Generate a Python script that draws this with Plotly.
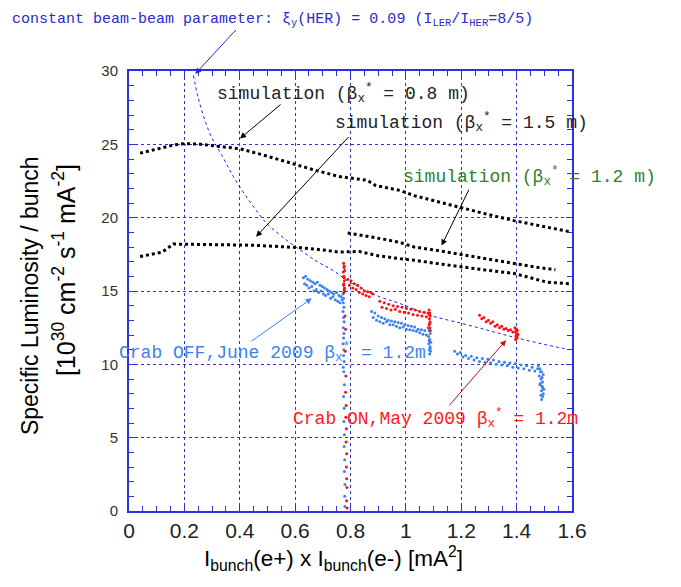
import plotly.graph_objects as go

# --- simulation curves (black dotted) ---
sim08_x = [0.04, 0.10, 0.16, 0.20, 0.26, 0.33, 0.40, 0.48, 0.57, 0.66, 0.76, 0.86, 0.89, 0.98, 1.03, 1.10, 1.19, 1.29, 1.39, 1.49, 1.59]
sim08_y = [24.4, 24.7, 24.95, 25.05, 25.0, 24.85, 24.7, 24.3, 23.8, 23.3, 22.8, 22.55, 22.2, 21.85, 21.5, 21.15, 20.7, 20.25, 19.8, 19.4, 19.05]

sim15_x = [0.04, 0.12, 0.16, 0.25, 0.35, 0.45, 0.54, 0.62, 0.70, 0.76, 0.83, 0.90, 0.98, 1.03, 1.12, 1.21, 1.30, 1.39, 1.45, 1.51, 1.59]
sim15_y = [17.35, 17.65, 18.2, 18.2, 18.15, 18.12, 18.05, 17.95, 17.8, 17.65, 17.7, 17.4, 17.2, 17.1, 16.85, 16.6, 16.4, 16.2, 15.9, 15.6, 15.5]

sim12_x = [0.79, 0.86, 0.93, 0.98, 1.03, 1.10, 1.19, 1.27, 1.34, 1.39, 1.46, 1.54]
sim12_y = [18.95, 18.75, 18.5, 18.3, 18.0, 17.8, 17.5, 17.25, 17.0, 16.85, 16.65, 16.45]

# --- constant beam-beam parameter curve (blue dotted) ---
bb_x = [0.233, 0.251, 0.293, 0.34, 0.377, 0.44, 0.498, 0.56, 0.618, 0.68, 0.737, 0.798, 0.906, 0.978, 1.086, 1.20, 1.30, 1.386, 1.49, 1.59]
bb_y = [29.7, 28.1, 25.7, 24.1, 22.8, 21.0, 19.6, 18.6, 17.8, 17.0, 16.4, 15.6, 14.6, 14.15, 13.35, 12.8, 12.3, 11.87, 11.4, 11.0]

# --- Crab OFF, June 2009 (blue points) ---
off_x = [0.630, 0.634, 0.638, 0.642, 0.646, 0.650, 0.655, 0.660, 0.664, 0.668, 0.672, 0.676, 0.680, 0.685, 0.690, 0.694, 0.698, 0.702, 0.706, 0.710, 0.715, 0.720, 0.724, 0.728, 0.732, 0.736, 0.740, 0.745, 0.750, 0.754, 0.758, 0.762, 0.766, 0.770,
         0.773, 0.775, 0.774, 0.776, 0.773, 0.775, 0.777, 0.774, 0.776, 0.775, 0.773, 0.776, 0.775, 0.777, 0.774, 0.776, 0.778, 0.775, 0.777, 0.776, 0.778, 0.777, 0.779, 0.778, 0.780, 0.779, 0.780,
         0.876, 0.882, 0.888, 0.894, 0.900, 0.906, 0.912, 0.918, 0.924, 0.930, 0.936, 0.942, 0.948, 0.954, 0.960, 0.966, 0.972, 0.978, 0.984, 0.990, 0.996, 1.002, 1.008, 1.014, 1.020, 1.026, 1.032, 1.038, 1.044, 1.050, 1.056, 1.062, 1.068, 1.074,
         1.080, 1.084, 1.088, 1.082, 1.086, 1.090, 1.083, 1.087, 1.085, 1.089, 1.084, 1.088, 1.086,
         1.176, 1.186, 1.196, 1.206, 1.216, 1.226, 1.236, 1.246, 1.256, 1.266, 1.276, 1.286, 1.296, 1.306, 1.316, 1.326, 1.336, 1.346, 1.356, 1.366, 1.376, 1.386, 1.396, 1.406, 1.416, 1.426, 1.436, 1.446, 1.456, 1.466, 1.476, 1.486,
         1.478, 1.484, 1.490, 1.496, 1.482, 1.488, 1.494, 1.486, 1.492, 1.498, 1.484, 1.490, 1.496, 1.488, 1.494, 1.490, 1.492, 1.494]
off_y = [15.9, 15.5, 16.0, 15.4, 15.8, 15.2, 15.7, 15.3, 15.6, 15.0, 15.5, 15.1, 15.6, 14.9, 15.4, 15.0, 15.3, 14.8, 15.2, 14.7, 15.1, 14.8, 15.0, 14.5, 14.9, 14.6, 14.8, 14.4, 14.9, 14.3, 14.7, 14.2, 14.6, 14.4,
         14.8, 14.5, 14.2, 13.9, 13.6, 13.2, 12.9, 12.5, 12.1, 11.8, 11.4, 11.0, 10.6, 10.2, 9.8, 9.5, 8.6, 7.8, 7.0, 6.1, 5.2, 4.4, 3.5, 2.7, 1.8, 1.0, 0.3,
         13.6, 13.2, 13.5, 13.0, 13.3, 12.9, 13.2, 12.8, 13.1, 12.9, 13.0, 12.7, 12.95, 12.7, 12.9, 12.6, 12.85, 12.5, 12.8, 12.55, 12.7, 12.4, 12.65, 12.35, 12.6, 12.3, 12.55, 12.25, 12.4, 12.15, 12.35, 12.05, 12.3, 12.0,
         12.5, 12.3, 12.1, 11.9, 11.7, 11.5, 11.4, 11.2, 11.0, 10.9, 11.6, 11.1, 10.7,
         10.9, 10.7, 10.8, 10.5, 10.6, 10.4, 10.55, 10.3, 10.45, 10.2, 10.4, 10.15, 10.35, 10.1, 10.3, 10.0, 10.2, 9.95, 10.15, 9.9, 10.1, 9.8, 10.05, 9.75, 9.95, 9.7, 9.9, 9.6, 9.8, 9.55, 9.7, 9.5,
         9.9, 9.7, 9.5, 9.3, 9.2, 9.0, 8.8, 8.7, 8.5, 8.3, 8.6, 8.2, 8.0, 7.9, 7.8, 7.6, 9.1, 8.4]

# --- Crab ON, May 2009 (red points) ---
on_x = [0.775, 0.777, 0.774, 0.776, 0.778, 0.775, 0.777, 0.776, 0.779, 0.777, 0.776, 0.778, 0.777, 0.779, 0.780,
        0.782, 0.781, 0.783, 0.782, 0.784, 0.783, 0.785, 0.784, 0.786, 0.785, 0.786, 0.787, 0.786, 0.788,
        0.790, 0.796, 0.802, 0.808, 0.814, 0.820, 0.826, 0.832, 0.838, 0.844, 0.850, 0.856, 0.862, 0.868, 0.874, 0.880,
        0.906, 0.914, 0.922, 0.930, 0.938, 0.946, 0.954, 0.962, 0.970, 0.978, 0.986, 0.994, 1.002, 1.010, 1.018, 1.026, 1.034, 1.042, 1.050, 1.058, 1.066, 1.074, 1.080,
        1.084, 1.086, 1.088, 1.085, 1.087, 1.084, 1.086, 1.088, 1.085, 1.087,
        1.266, 1.274, 1.282, 1.290, 1.298, 1.306, 1.314, 1.322, 1.330, 1.338, 1.346, 1.354, 1.362, 1.370, 1.378, 1.386,
        1.394, 1.398, 1.402, 1.396, 1.400, 1.404, 1.398, 1.402, 1.396, 1.400, 1.404, 1.398]
on_y = [16.9, 16.6, 16.3, 16.0, 15.7, 15.4, 15.1, 14.9, 16.4, 15.9, 15.5, 15.2, 16.7, 15.0, 13.3,
        12.4, 10.9, 9.2, 8.1, 7.2, 6.4, 5.6, 4.7, 3.9, 3.0, 2.2, 1.6, 0.7, 0.2,
        15.8, 15.4, 15.7, 15.2, 15.5, 15.1, 15.4, 14.9, 15.2, 14.8, 15.0, 14.7, 14.95, 14.6, 14.9, 14.8,
        14.3, 13.9, 14.2, 13.8, 14.1, 13.7, 14.0, 13.75, 13.95, 13.6, 13.9, 13.55, 13.8, 13.5, 13.75, 13.4, 13.7, 13.35, 13.6, 13.3, 13.55, 13.25, 13.5,
        13.7, 13.5, 13.3, 13.1, 12.9, 12.7, 12.5, 12.3, 13.4, 12.8,
        13.35, 13.1, 13.2, 12.9, 13.0, 12.8, 12.9, 12.6, 12.7, 12.5, 12.6, 12.4, 12.45, 12.3, 12.35, 12.2,
        12.5, 12.4, 12.3, 12.2, 12.1, 12.0, 11.9, 11.8, 11.7, 12.35, 12.05, 11.95]

x_ticks = [0, 0.2, 0.4, 0.6, 0.8, 1.0, 1.2, 1.4, 1.6]
x_tick_text = ["0", "0.2", "0.4", "0.6", "0.8", "1", "1.2", "1.4", "1.6"]
y_ticks = [0, 5, 10, 15, 20, 25, 30]

AXIS_BLUE = "#2f2fe0"
MONO = "Liberation Mono"
SANS = "Liberation Sans"

fig = go.Figure()

for xs, ys in [(sim08_x, sim08_y), (sim15_x, sim15_y), (sim12_x, sim12_y)]:
    fig.add_trace(go.Scatter(x=xs, y=ys, mode="lines",
                             line=dict(color="black", width=3, dash="dot")))

fig.add_trace(go.Scatter(x=bb_x, y=bb_y, mode="lines", line_shape="spline",
                         line=dict(color="#2020e0", width=1, dash="dot")))

fig.add_trace(go.Scatter(x=off_x, y=off_y, mode="markers",
                         marker=dict(color="#3d82f0", size=3)))
fig.add_trace(go.Scatter(x=on_x, y=on_y, mode="markers",
                         marker=dict(color="#ff1010", size=3)))

# text labels: (text, xref, x, yref, y, yanchor, color, size)
notes = [
    ("constant beam-beam parameter: ξ<sub>y</sub>(HER) = 0.09 (I<sub>LER</sub>/I<sub>HER</sub>=8/5)",
     "paper", -0.268, "paper", 1.141, "top", "#2a2ad0", 15),
    ("simulation (β<sub>x</sub><sup>*</sup> = 0.8 m)", "x", 0.311, "y", 28.5, "middle", "#222222", 18),
    ("simulation (β<sub>x</sub><sup>*</sup> = 1.5 m)", "x", 0.736, "y", 26.5, "middle", "#222222", 18),
    ("simulation (β<sub>x</sub><sup>*</sup> = 1.2 m)", "x", 0.984, "y", 22.8, "middle", "#2f7f2f", 18),
    ("Crab OFF,June 2009 β<sub>x</sub><sup>*</sup> = 1.2m", "paper", -0.026, "paper", 0.361, "middle", "#3d82f0", 18),
    ("Crab ON,May 2009 β<sub>x</sub><sup>*</sup> = 1.2m", "x", 0.585, "y", 6.3, "middle", "#ff1a1a", 18),
]
for txt, xr, x, yr, y, ya, col, sz in notes:
    fig.add_annotation(x=x, y=y, xref=xr, yref=yr, text=txt, showarrow=False,
                       xanchor="left", yanchor=ya,
                       font=dict(family=MONO, size=sz, color=col))

arrows = [
    # tail x, tail y, head x, head y, color
    (0.391, 32.9, 0.239, 29.8, "#2a2ad0"),
    (0.553, 27.8, 0.401, 25.4, "black"),
    (0.798, 25.6, 0.459, 18.7, "black"),
    (1.230, 22.0, 1.129, 18.1, "black"),
    (0.437, 11.5, 0.660, 14.5, "#3d82f0"),
    (1.152, 7.1, 1.362, 11.65, "#b01818"),
]
for tx, ty, hx, hy, col in arrows:
    fig.add_annotation(x=hx, y=hy, ax=tx, ay=ty, xref="x", yref="y", axref="x", ayref="y",
                       text="", showarrow=True, arrowhead=2, arrowsize=1.2,
                       arrowwidth=1, arrowcolor=col)

# axis titles
fig.add_annotation(x=-0.222, y=0.49, xref="paper", yref="paper", textangle=-90, showarrow=False,
                   xanchor="center", yanchor="middle",
                   text="Specific Luminosity / bunch",
                   font=dict(family=SANS, size=23, color="black"))
fig.add_annotation(x=-0.145, y=0.547, xref="paper", yref="paper", textangle=-90, showarrow=False,
                   xanchor="center", yanchor="middle",
                   text="[10<sup>30</sup> cm<sup>-2</sup> s<sup>-1</sup> mA<sup>-2</sup>]",
                   font=dict(family=SANS, size=25, color="black"))
fig.add_annotation(x=0.461, y=-0.107, xref="paper", yref="paper", showarrow=False,
                   xanchor="center", yanchor="middle",
                   text="I<sub>bunch</sub>(e+) x I<sub>bunch</sub>(e-) [mA<sup>2</sup>]",
                   font=dict(family=SANS, size=22.5, color="black"))

fig.update_layout(
    width=681, height=587,
    margin=dict(l=121, r=117, t=63, b=84, autoexpand=False),
    paper_bgcolor="white", plot_bgcolor="white",
    showlegend=False,
    xaxis=dict(
        range=[0, 1.6], tickvals=x_ticks, ticktext=x_tick_text,
        showline=True, linecolor=AXIS_BLUE, linewidth=2, mirror="ticks",
        ticks="inside", ticklen=6, tickcolor=AXIS_BLUE,
        minor=dict(dtick=0.05, ticks="inside", ticklen=5, tickcolor=AXIS_BLUE, showgrid=False),
        showgrid=True, gridcolor=AXIS_BLUE, griddash="dot", gridwidth=1,
        zeroline=False,
        tickfont=dict(family=SANS, size=21, color="#222222"),
    ),
    yaxis=dict(
        range=[0, 30], tickvals=y_ticks,
        showline=True, linecolor=AXIS_BLUE, linewidth=2, mirror="ticks",
        ticks="inside", ticklen=6, tickcolor=AXIS_BLUE,
        minor=dict(dtick=1, ticks="inside", ticklen=5, tickcolor=AXIS_BLUE, showgrid=False),
        showgrid=True, gridcolor=AXIS_BLUE, griddash="dot", gridwidth=1,
        zeroline=False, ticklabelstandoff=6,
        tickfont=dict(family=SANS, size=15, color="#333333"),
    ),
)

fig.write_html("out.html")
